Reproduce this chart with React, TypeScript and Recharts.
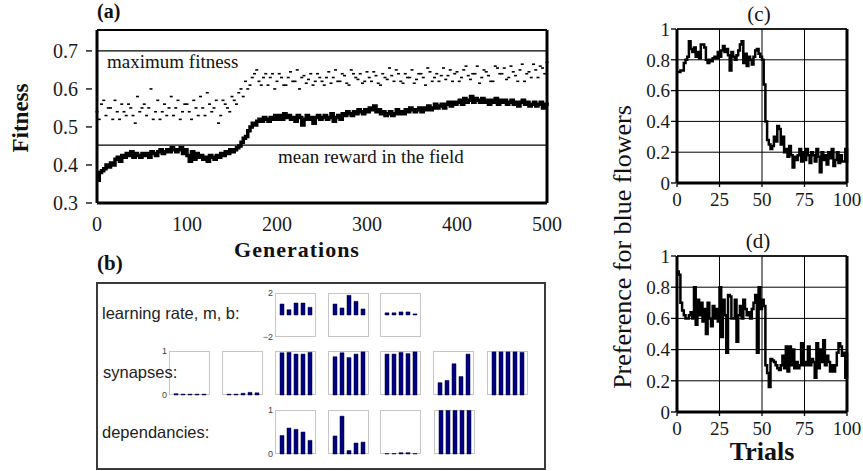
import React from 'react';
import {
  ComposedChart, LineChart, BarChart, Line, Bar, Scatter, XAxis, YAxis,
  CartesianGrid, ReferenceLine,
} from 'recharts';

const SERIF = "'Liberation Serif', 'Times New Roman', serif";
const SANS = "'Liberation Sans', Arial, sans-serif";

// ---------- Panel (a) data ----------
const generationTicks = [0, 100, 200, 300, 400, 500];
const fitnessTicks = [0.3, 0.4, 0.5, 0.6, 0.7];
const fitnessDomainTop = 0.755;
const maximumFitness = 0.7;
const meanRewardInField = 0.452;
const MEAN_STEP = 2.5;
const DOT_STEP = 5;

// mean population fitness, every 2.5 generations (0..500)
const meanFitness = [
  0.36, 0.38, 0.385, 0.39, 0.40, 0.395, 0.405, 0.40, 0.415, 0.42,
  0.41, 0.425, 0.42, 0.43, 0.425, 0.435, 0.42, 0.43, 0.425, 0.42,
  0.43,
  0.425, 0.43, 0.42, 0.435, 0.43, 0.425, 0.435, 0.44, 0.43, 0.435,
  0.44, 0.435, 0.445, 0.44, 0.435, 0.44, 0.445, 0.43, 0.44, 0.425,
  0.41, 0.435, 0.415, 0.43, 0.42, 0.425, 0.415, 0.42, 0.41, 0.425,
  0.42, 0.415, 0.425, 0.42, 0.43, 0.425, 0.435, 0.43, 0.44, 0.435,
  0.44, 0.445, 0.45, 0.46, 0.47, 0.475, 0.49, 0.50, 0.51, 0.505,
  0.515, 0.52, 0.515, 0.525, 0.52, 0.515, 0.525, 0.52, 0.53, 0.52,
  0.53, 0.52, 0.535, 0.525, 0.53, 0.52, 0.525, 0.515, 0.53, 0.525,
  0.505, 0.52, 0.53, 0.52, 0.525, 0.51, 0.525, 0.53, 0.52, 0.525,
  0.53, 0.52, 0.525, 0.535, 0.515, 0.525, 0.53, 0.52, 0.535, 0.53,
  0.54, 0.535, 0.53, 0.54, 0.535, 0.545, 0.54, 0.535, 0.545, 0.54,
  0.55, 0.545, 0.555, 0.54, 0.545, 0.535, 0.54, 0.53, 0.535, 0.54,
  0.53, 0.535, 0.545, 0.535, 0.54, 0.535, 0.545, 0.54, 0.55, 0.545,
  0.54, 0.545, 0.55, 0.54, 0.55, 0.545, 0.555, 0.545, 0.55, 0.56,
  0.55, 0.555, 0.56, 0.55, 0.56, 0.565, 0.555, 0.565, 0.56, 0.565,
  0.57, 0.56, 0.575, 0.565, 0.57, 0.58, 0.565, 0.575, 0.57, 0.565,
  0.575, 0.565, 0.57, 0.56, 0.57, 0.565, 0.575, 0.56, 0.57, 0.565,
  0.57, 0.56, 0.565, 0.57, 0.56, 0.565, 0.555, 0.565, 0.57, 0.56,
  0.565, 0.555, 0.56, 0.565, 0.555, 0.56, 0.565, 0.55, 0.56, 0.555,
];

// best individuals (dots), generations 0,5,...,500
const bestFitnessA = [
  0.54, 0.56, 0.53, 0.55, 0.57, 0.52, 0.54, 0.56, 0.53, 0.58,
  0.55, 0.53, 0.60, 0.54, 0.52, 0.56, 0.55, 0.53, 0.57, 0.54,
  0.56, 0.52, 0.55, 0.58, 0.53, 0.56, 0.55, 0.51, 0.57, 0.55,
  0.58, 0.56, 0.60, 0.62, 0.61, 0.64, 0.62, 0.63, 0.61, 0.64,
  0.62, 0.63, 0.61, 0.645, 0.62, 0.60, 0.635, 0.625, 0.61, 0.64,
  0.62, 0.63, 0.615, 0.65, 0.62, 0.635, 0.61, 0.64, 0.625, 0.615,
  0.645, 0.62, 0.635, 0.61, 0.63, 0.655, 0.62, 0.64, 0.615, 0.63,
  0.65, 0.625, 0.64, 0.61, 0.645, 0.63, 0.62, 0.655, 0.635, 0.62,
  0.645, 0.63, 0.66, 0.625, 0.64, 0.615, 0.65, 0.635, 0.62, 0.655,
  0.64, 0.625, 0.66, 0.635, 0.65, 0.62, 0.645, 0.665, 0.63, 0.655,
  0.67,
];
// best individuals (dots), generations 2.5,7.5,...,497.5
const bestFitnessB = [
  0.52, 0.57, 0.55, 0.52, 0.54, 0.56, 0.53, 0.55, 0.51, 0.54,
  0.56, 0.55, 0.52, 0.57, 0.54, 0.53, 0.58, 0.55, 0.52, 0.56,
  0.54, 0.57, 0.53, 0.55, 0.59, 0.54, 0.57, 0.53, 0.56, 0.54,
  0.57, 0.59, 0.58, 0.60, 0.63, 0.65, 0.61, 0.64, 0.63, 0.60,
  0.64, 0.61, 0.63, 0.62, 0.65, 0.63, 0.615, 0.64, 0.62, 0.63,
  0.61, 0.645, 0.63, 0.62, 0.64, 0.615, 0.65, 0.63, 0.64, 0.62,
  0.63, 0.645, 0.615, 0.64, 0.625, 0.635, 0.65, 0.62, 0.64, 0.63,
  0.615, 0.64, 0.63, 0.655, 0.62, 0.64, 0.635, 0.625, 0.65, 0.64,
  0.62, 0.65, 0.635, 0.64, 0.66, 0.63, 0.645, 0.62, 0.66, 0.64,
  0.655, 0.63, 0.645, 0.62, 0.665, 0.64, 0.63, 0.65, 0.66, 0.64,
];

// ---------- Panels (c), (d) data ----------
const trialTicks = [0, 25, 50, 75, 100];
const preferenceTicks = [0, 0.2, 0.4, 0.6, 0.8, 1];
const preferenceC = [
  0.72, 0.72, 0.73, 0.73, 0.78, 0.80, 0.82, 0.92, 0.87, 0.85,
  0.88, 0.82, 0.85, 0.81, 0.90, 0.90, 0.88, 0.80, 0.78, 0.80,
  0.79, 0.81, 0.82, 0.81, 0.85, 0.82, 0.86, 0.89, 0.85, 0.87,
  0.83, 0.73, 0.85, 0.82, 0.80, 0.83, 0.86, 0.90, 0.92, 0.78,
  0.84, 0.76, 0.82, 0.80, 0.77, 0.82, 0.86, 0.87, 0.84, 0.82,
  0.80, 0.64, 0.40, 0.28, 0.25, 0.22, 0.24, 0.30, 0.27, 0.37,
  0.35, 0.25, 0.30, 0.20, 0.22, 0.17, 0.24, 0.18, 0.10, 0.17,
  0.15, 0.18, 0.22, 0.14, 0.20, 0.15, 0.22, 0.18, 0.13, 0.20,
  0.18, 0.14, 0.22, 0.17, 0.07, 0.20, 0.15, 0.18, 0.12, 0.20,
  0.16, 0.22, 0.11, 0.15, 0.20, 0.13, 0.18, 0.14, 0.14, 0.22,
  0.13,
];
const preferenceD = [
  0.90, 0.88, 0.70, 0.65, 0.62, 0.60, 0.60, 0.62, 0.64, 0.60,
  0.80, 0.56, 0.72, 0.62, 0.70, 0.58, 0.66, 0.50, 0.70, 0.60,
  0.55, 0.68, 0.60, 0.66, 0.58, 0.80, 0.48, 0.72, 0.62, 0.38,
  0.75, 0.74, 0.60, 0.60, 0.72, 0.45, 0.62, 0.68, 0.60, 0.72,
  0.66, 0.62, 0.64, 0.60, 0.66, 0.70, 0.75, 0.38, 0.80, 0.66,
  0.72, 0.68, 0.30, 0.25, 0.16, 0.34, 0.33, 0.32, 0.30, 0.28,
  0.27, 0.30, 0.36, 0.28, 0.42, 0.26, 0.42, 0.30, 0.40, 0.28,
  0.32, 0.28, 0.30, 0.44, 0.30, 0.32, 0.30, 0.42, 0.30, 0.34,
  0.32, 0.22, 0.44, 0.28, 0.40, 0.32, 0.46, 0.30, 0.36, 0.32,
  0.26, 0.30, 0.26, 0.30, 0.38, 0.44, 0.42, 0.36, 0.38, 0.22,
  0.38,
];

// ---------- Panel (b) data ----------
const learningRateBars = [
  [1.0, 0.48, 1.09, 1.09, 0.7],
  [1.0, 0.64, 1.79, 1.24, 0.55],
  [0.2, 0.2, 0.28, 0.28, 0.1],
];
const synapseBars = [
  [0.03, 0.02, 0.02, 0.02, 0.02],
  [0.02, 0.02, 0.04, 0.06, 0.05],
  [0.96, 0.97, 0.93, 0.93, 0.97],
  [0.87, 0.96, 0.85, 0.93, 0.98],
  [0.93, 0.93, 0.97, 0.94, 0.98],
  [0.28, 0.33, 0.71, 0.42, 0.93],
  [0.98, 0.98, 0.98, 0.98, 0.97],
];
const dependancyBars = [
  [0.42, 0.59, 0.56, 0.5, 0.31],
  [0.41, 0.86, 0.08, 0.25, 0.27],
  [0.01, 0.01, 0.03, 0.03, 0.01],
  [0.99, 0.99, 0.99, 0.99, 0.99],
];
const learningRateTicks = [-2, 2];
const unitTicks = [0, 1];

// ---------- derived tables ----------
const meanData = meanFitness.map((v, i) => ({ gen: i * MEAN_STEP, fit: v }));
const dotData = [
  ...bestFitnessA.map((v, i) => ({ gen: i * DOT_STEP, fit: v })),
  ...bestFitnessB.map((v, i) => ({ gen: i * DOT_STEP + DOT_STEP / 2, fit: v })),
];
const prefCData = preferenceC.map((v, i) => ({ trial: i, pref: v }));
const prefDData = preferenceD.map((v, i) => ({ trial: i, pref: v }));

// ---------- layout ----------
const MINI_W = 41;
const MINI_H = 44;
const row1 = { top: 293, lefts: [275, 328, 380] };
const row2 = { top: 351, lefts: [169, 222, 275, 328, 380, 433, 487] };
const row3 = { top: 410, lefts: [275, 328, 380, 434] };

// ---------- tick renderers ----------
const FitTick = (props: any) => {
  const { x, y, payload } = props;
  return (
    <g>
      <line x1={x - 11} x2={x - 5} y1={y} y2={y} stroke="#000" strokeWidth={1.3} />
      <text x={x - 19} y={y} dy="0.36em" textAnchor="end" fontFamily={SERIF} fontSize={20} fill="#1a1a1a">
        {Number(payload.value).toFixed(1)}
      </text>
    </g>
  );
};
const GenTick = (props: any) => {
  const { x, y, payload } = props;
  return (
    <text x={x} y={y + 28} textAnchor="middle" fontFamily={SERIF} fontSize={20} fill="#1a1a1a">
      {payload.value}
    </text>
  );
};
const fmtPref = (v: number) => (v === 0 ? '0' : v === 1 ? '1' : v.toFixed(1));
const PrefTick = (props: any) => {
  const { x, y, payload } = props;
  return (
    <g>
      <line x1={x - 6} x2={x - 1} y1={y} y2={y} stroke="#000" strokeWidth={1.3} />
      <text x={x - 7} y={y} dy="0.36em" textAnchor="end" fontFamily={SERIF} fontSize={19} fill="#1a1a1a">
        {fmtPref(Number(payload.value))}
      </text>
    </g>
  );
};
const TrialTick = (props: any) => {
  const { x, y, payload } = props;
  return (
    <g>
      <line x1={x} x2={x} y1={y} y2={y + 4} stroke="#000" strokeWidth={1.3} />
      <text x={x} y={y + 23} textAnchor="middle" fontFamily={SERIF} fontSize={19} fill="#1a1a1a">
        {payload.value}
      </text>
    </g>
  );
};

const Dash = (props: any) => {
  const { cx, cy } = props;
  if (cx == null || cy == null) return null;
  return <rect x={cx - 1.5} y={cy - 0.8} width={3} height={1.6} fill="#000" />;
};

const MaxLabel = (props: any) => {
  const vb = props.viewBox || {};
  return (
    <text x={vb.x + 10} y={vb.y + 17} fontFamily={SERIF} fontSize={19} fill="#111">
      maximum fitness
    </text>
  );
};
const FieldLabel = (props: any) => {
  const vb = props.viewBox || {};
  return (
    <text x={vb.x + 181} y={vb.y + 18} fontFamily={SERIF} fontSize={19} fill="#111">
      mean reward in the field
    </text>
  );
};

// ---------- mini bar chart ----------
const MiniBars = ({ values, left, top, domain, ticks, showAxis }: any) => {
  const axisW = showAxis ? 12 : 0;
  const pad = 7;
  const data = values.map((v: number, i: number) => ({ i, v }));
  return (
    <>
      <div
        style={{
          position: 'absolute', left, top, width: MINI_W, height: MINI_H,
          border: '1.5px solid #c6c6c6', boxSizing: 'border-box', background: '#fff',
        }}
      />
      <div style={{ position: 'absolute', left: left - axisW, top: top - pad }}>
        <BarChart
          width={MINI_W + axisW}
          height={MINI_H + 2 * pad}
          data={data}
          margin={{ top: pad, bottom: pad, left: 0, right: 0 }}
          barSize={4}
        >
          <XAxis dataKey="i" hide padding={{ left: 3, right: 3 }} />
          <YAxis
            type="number"
            domain={domain}
            ticks={ticks}
            interval={0}
            hide={!showAxis}
            width={axisW}
            axisLine={false}
            tickLine={false}
            tickSize={0}
            tickMargin={2}
            tick={{ fontSize: 9, fill: '#444', fontFamily: SANS }}
            tickFormatter={(v: number) => (v < 0 ? `\u2212${-v}` : `${v}`)}
          />
          <Bar dataKey="v" fill="#000080" stroke="#00003a" strokeWidth={0.5} isAnimationActive={false} />
        </BarChart>
      </div>
    </>
  );
};

const PrefChart = ({ data, left, top, plotTop, plotBottom }: any) => {
  const height = 220;
  const xAxisH = height - (plotBottom - top);
  return (
    <div style={{ position: 'absolute', left, top }}>
      <LineChart width={263} height={height} data={data} margin={{ top: plotTop - top, right: 16, left: 0, bottom: 0 }}>
        <CartesianGrid stroke="#000" strokeWidth={1} />
        <XAxis
          type="number" dataKey="trial" domain={[0, 100]} ticks={trialTicks} interval={0}
          height={xAxisH} axisLine={{ stroke: '#000', strokeWidth: 3 }} tickLine={false}
          tickSize={0} tickMargin={0} tick={<TrialTick />}
        />
        <YAxis
          type="number" dataKey="pref" domain={[0, 1]} ticks={preferenceTicks} interval={0}
          width={77} axisLine={{ stroke: '#000', strokeWidth: 3 }} tickLine={false}
          tickSize={0} tickMargin={0} tick={<PrefTick />}
        />
        <ReferenceLine x={100} stroke="#000" strokeWidth={3} />
        <ReferenceLine y={1} stroke="#000" strokeWidth={1.5} />
        <Line
          dataKey="pref" type="stepAfter" stroke="#000" strokeWidth={2.5} dot={false}
          isAnimationActive={false}
        />
      </LineChart>
    </div>
  );
};

export default function App() {
  return (
    <div
      style={{
        position: 'absolute', left: 0, top: 0, width: 863, height: 471,
        background: '#fff', overflow: 'hidden', fontFamily: SERIF,
      }}
    >
      {/* Panel (a) */}
      <div style={{ position: 'absolute', left: 0, top: 0 }}>
        <ComposedChart width={580} height={240} margin={{ top: 30, right: 33, left: 0, bottom: 0 }}>
          <XAxis
            type="number" dataKey="gen" domain={[0, 500]} ticks={generationTicks} interval={0}
            height={37} axisLine={{ stroke: '#000', strokeWidth: 3 }} tickLine={false}
            tickSize={0} tickMargin={0} tick={<GenTick />}
          />
          <YAxis
            type="number" dataKey="fit" domain={[0.3, fitnessDomainTop]} ticks={fitnessTicks} interval={0}
            width={97} axisLine={{ stroke: '#000', strokeWidth: 3 }} tickLine={false}
            tickSize={0} tickMargin={0} tick={<FitTick />}
          />
          <ReferenceLine y={maximumFitness} stroke="#000" strokeWidth={1.2} label={<MaxLabel />} />
          <ReferenceLine y={meanRewardInField} stroke="#000" strokeWidth={1.2} label={<FieldLabel />} />
          <ReferenceLine y={fitnessDomainTop} stroke="#000" strokeWidth={2} />
          <ReferenceLine x={500} stroke="#000" strokeWidth={3} />
          <Scatter data={dotData} dataKey="fit" shape={<Dash />} isAnimationActive={false} />
          <Line
            data={meanData} dataKey="fit" type="stepAfter" stroke="#000" strokeWidth={3.5}
            dot={false} isAnimationActive={false}
          />
        </ComposedChart>
      </div>

      {/* Panel (b) frame */}
      <div
        style={{
          position: 'absolute', left: 96, top: 282, width: 450, height: 188,
          border: '2px solid #3a3a3a', boxSizing: 'border-box',
        }}
      />
      {learningRateBars.map((vals, k) => (
        <MiniBars key={`lr${k}`} values={vals} left={row1.lefts[k]} top={row1.top}
          domain={[-2, 2]} ticks={learningRateTicks} showAxis={k === 0} />
      ))}
      {synapseBars.map((vals, k) => (
        <MiniBars key={`sy${k}`} values={vals} left={row2.lefts[k]} top={row2.top}
          domain={[0, 1]} ticks={unitTicks} showAxis={k === 0} />
      ))}
      {dependancyBars.map((vals, k) => (
        <MiniBars key={`de${k}`} values={vals} left={row3.lefts[k]} top={row3.top}
          domain={[0, 1]} ticks={unitTicks} showAxis={k === 0} />
      ))}

      {/* Panels (c), (d) */}
      <PrefChart data={prefCData} left={600} top={0} plotTop={29} plotBottom={183} />
      <PrefChart data={prefDData} left={600} top={230} plotTop={256} plotBottom={412} />

      {/* Text overlay */}
      <svg width={863} height={471} style={{ position: 'absolute', left: 0, top: 0, pointerEvents: 'none' }}>
        <text x={97} y={18} fontFamily={SERIF} fontSize={20} fontWeight="bold" fill="#111">(a)</text>
        <text x={97} y={270} fontFamily={SERIF} fontSize={21} fontWeight="bold" fill="#111">(b)</text>
        <text x={759} y={21} textAnchor="middle" fontFamily={SERIF} fontSize={21} fill="#111">(c)</text>
        <text x={758} y={248} textAnchor="middle" fontFamily={SERIF} fontSize={21} fill="#111">(d)</text>
        <text x={28} y={118} transform="rotate(-90 28 118)" textAnchor="middle" fontFamily={SERIF}
          fontSize={23} fontWeight="bold" fill="#111">Fitness</text>
        <text x={297} y={257} textAnchor="middle" fontFamily={SERIF} fontSize={22} fontWeight="bold"
          letterSpacing={1} fill="#111">Generations</text>
        <text x={631} y={247} transform="rotate(-90 631 247)" textAnchor="middle" fontFamily={SERIF}
          fontSize={26} fill="#111">Preference for blue flowers</text>
        <text x={762} y={460} textAnchor="middle" fontFamily={SERIF} fontSize={26} fontWeight="bold"
          fill="#111">Trials</text>
        <text x={102} y={319} fontFamily={SANS} fontSize={16.5} fill="#222">learning rate, m, b:</text>
        <text x={103} y={378} fontFamily={SANS} fontSize={16.5} fill="#222">synapses:</text>
        <text x={102} y={438} fontFamily={SANS} fontSize={16.5} fill="#222">dependancies:</text>
      </svg>
    </div>
  );
}
